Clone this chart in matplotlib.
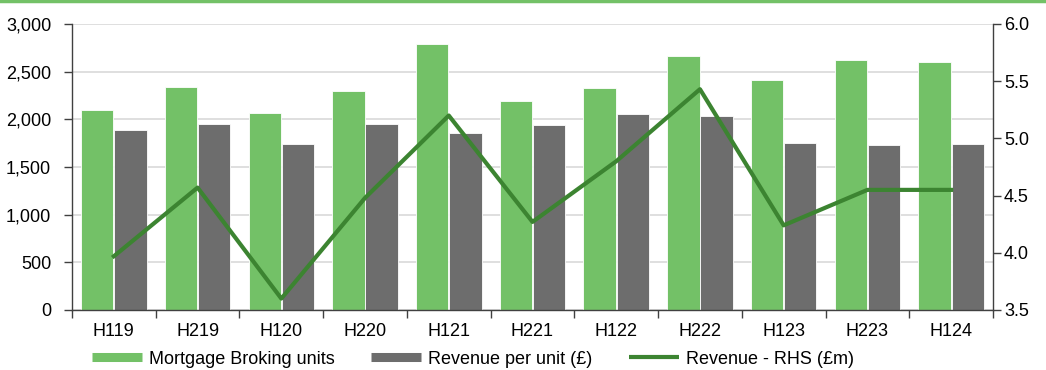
import matplotlib
matplotlib.use("Agg")
import matplotlib.pyplot as plt
from matplotlib.lines import Line2D
import numpy as np

plt.rcParams['font.family'] = ['Liberation Sans', 'DejaVu Sans']

periods = ['H119', 'H219', 'H120', 'H220', 'H121', 'H221', 'H122', 'H222', 'H123', 'H223', 'H124']
broking_units = [2100, 2340, 2065, 2295, 2795, 2195, 2330, 2665, 2410, 2620, 2600]
revenue_per_unit = [1890, 1950, 1740, 1950, 1855, 1940, 2055, 2030, 1755, 1735, 1745]
revenue_m = [3.97, 4.57, 3.60, 4.48, 5.20, 4.27, 4.80, 5.43, 4.24, 4.55, 4.55]

green = '#73C167'
grey = '#6D6D6D'
line_green = '#3C8431'

fig = plt.figure(figsize=(10.46, 3.70), dpi=100)
ax = fig.add_axes([72 / 1046, 60 / 370, (993 - 72) / 1046, 286 / 370])
ax2 = ax.twinx()

x = np.arange(len(periods))
w = 0.386
ax.bar(x - w / 2 - 0.005, broking_units, w, color=green, edgecolor='white', linewidth=0.6, zorder=2)
ax.bar(x + w / 2 + 0.005, revenue_per_unit, w, color=grey, edgecolor='white', linewidth=0.6, zorder=2)
ax2.plot(x, revenue_m, color=line_green, linewidth=3, zorder=3)

ax.set_xlim(-0.5, len(periods) - 0.5)
ax.set_ylim(0, 3000)
ax.set_yticks(np.arange(0, 3001, 500))
ax.set_yticklabels([f'{v:,}' for v in range(0, 3001, 500)])
ax2.set_ylim(3.5, 6.0)
ax2.set_yticks(np.arange(3.5, 6.01, 0.5))
ax2.set_yticklabels([f'{v:.1f}' for v in np.arange(3.5, 6.01, 0.5)])

ax.yaxis.grid(True, color='#D9D9D9', linewidth=1.2, zorder=0)
ax.set_axisbelow(True)

ax.set_xticks(x)
ax.set_xticklabels(periods)
ax.set_xticks(np.arange(-0.5, len(periods), 1), minor=True)
ax.tick_params(axis='x', which='major', length=0, pad=9, labelsize=13, colors='black')
ax.tick_params(axis='x', which='minor', length=6, width=1, color='#404040', direction='out')
ax.tick_params(axis='y', length=6, width=1, color='#404040', labelsize=13, pad=9)
ax2.tick_params(axis='y', length=6, width=1, color='#404040', labelsize=13, pad=2)

for a in (ax, ax2):
    a.spines['top'].set_visible(False)
    for s in ('left', 'right', 'bottom'):
        a.spines[s].set_color('#404040')
        a.spines[s].set_linewidth(1)
ax.spines['right'].set_visible(False)
ax2.spines['left'].set_visible(False)
ax2.spines['bottom'].set_visible(False)

handles = [
    Line2D([0], [0], color=green, linewidth=6.5, solid_capstyle='butt'),
    Line2D([0], [0], color=grey, linewidth=6.5, solid_capstyle='butt'),
    Line2D([0], [0], color=line_green, linewidth=3, solid_capstyle='butt'),
]
labels = ['Mortgage Broking units', 'Revenue per unit (£)', 'Revenue - RHS (£m)']
fig.legend(handles, labels, loc='center left', bbox_to_anchor=(83 / 1046, 11 / 370), ncol=3,
           frameon=False, fontsize=13, borderpad=0, handlelength=2.77, handletextpad=0.4,
           columnspacing=2.0)

# green rule along the top edge
fig.add_artist(Line2D([0, 1], [0.996, 0.996], transform=fig.transFigure, color=green, linewidth=2.5))

fig.savefig('out.png', dpi=100)
